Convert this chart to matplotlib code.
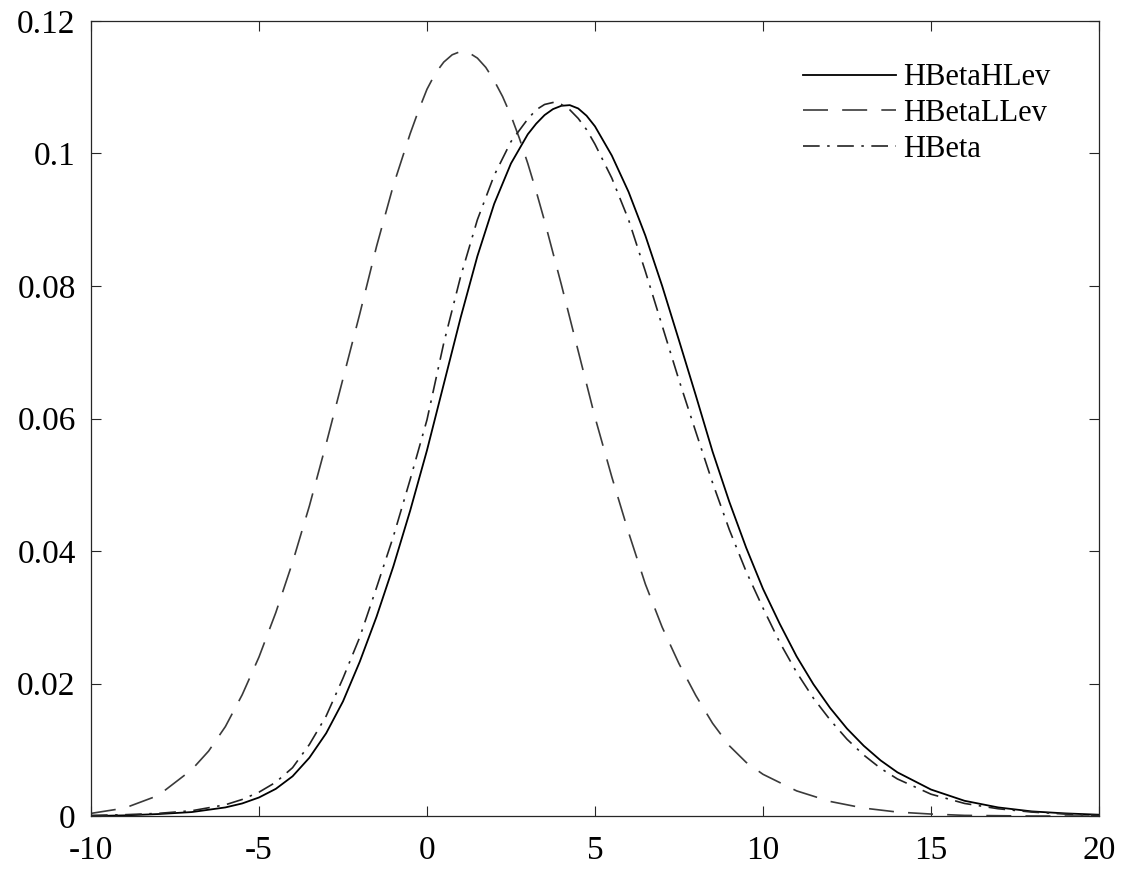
import matplotlib
matplotlib.use('Agg')
import matplotlib.pyplot as plt

plt.rcParams['font.family'] = ['Liberation Serif', 'DejaVu Serif']

# values
x_llev = [-10, -9, -8, -7, -6.5, -6, -5.5, -5, -4.5, -4, -3.5, -3, -2.5, -2, -1.5, -1,
          -0.5, -0.25, 0, 0.25, 0.5, 0.75, 1, 1.25, 1.5, 1.75, 2, 2.25, 2.5, 2.75, 3,
          3.25, 3.5, 4, 4.5, 5, 5.5, 6, 6.5, 7, 7.5, 8, 8.5, 9, 9.5, 10, 11, 12, 13, 14,
          15, 16, 18, 20]
y_llev = [0.0004, 0.0012, 0.0031, 0.0070, 0.0098, 0.0135, 0.0183, 0.0240, 0.0307, 0.0383,
          0.0468, 0.0562, 0.0660, 0.0758, 0.0860, 0.0952, 0.1030, 0.1065, 0.1097, 0.1121,
          0.1138, 0.1149, 0.1154, 0.1152, 0.1144, 0.1130, 0.1110, 0.1086, 0.1057, 0.1023,
          0.0985, 0.0943, 0.0898, 0.0802, 0.0702, 0.0602, 0.0512, 0.0428, 0.0350, 0.0285,
          0.0230, 0.0182, 0.0140, 0.0106, 0.0081, 0.0063, 0.0038, 0.0022, 0.0012, 0.0006,
          0.0003, 0.0001, 0.0000, 0.0000]

x_hlev = [-10, -9, -8, -7, -6, -5.5, -5, -4.5, -4, -3.5, -3, -2.5, -2, -1.5, -1, -0.5,
          0, 0.5, 1, 1.5, 2, 2.5, 3, 3.25, 3.5, 3.75, 4, 4.25, 4.5, 4.75, 5, 5.5, 6, 6.5,
          7, 7.5, 8, 8.5, 9, 9.5, 10, 10.5, 11, 11.5, 12, 12.5, 13, 13.5, 14, 15, 16, 17,
          18, 19, 20]
y_hlev = [0.0000, 0.0001, 0.0003, 0.0006, 0.0013, 0.0019, 0.0028, 0.0041, 0.0060, 0.0088,
          0.0125, 0.0173, 0.0233, 0.0301, 0.0377, 0.0461, 0.0552, 0.0652, 0.0752, 0.0845,
          0.0924, 0.0985, 0.1029, 0.1045, 0.1058, 0.1067, 0.1072, 0.1073, 0.1068, 0.1057,
          0.1041, 0.0997, 0.0942, 0.0876, 0.0800, 0.0718, 0.0635, 0.0550, 0.0474, 0.0405,
          0.0343, 0.0290, 0.0241, 0.0199, 0.0163, 0.0132, 0.0106, 0.0084, 0.0066, 0.0040,
          0.0023, 0.0013, 0.0007, 0.0004, 0.0002]

x_hbeta = [-10, -9, -8, -7, -6, -5.5, -5, -4.5, -4, -3.5, -3, -2.5, -2, -1.5, -1, -0.5,
           0, 0.5, 1, 1.5, 2, 2.5, 3, 3.25, 3.5, 3.75, 4, 4.25, 4.5, 4.75, 5, 5.5, 6, 6.5,
           7, 7.5, 8, 8.5, 9, 9.5, 10, 10.5, 11, 11.5, 12, 12.5, 13, 13.5, 14, 15, 16, 17,
           18, 19, 20]
y_hbeta = [0.0001, 0.0002, 0.0004, 0.0008, 0.0017, 0.0025, 0.0036, 0.0051, 0.0073, 0.0108,
           0.0151, 0.0208, 0.0270, 0.0345, 0.0422, 0.0508, 0.0598, 0.0714, 0.0814, 0.0900,
           0.0967, 0.1018, 0.1052, 0.1066, 0.1074, 0.1077, 0.1074, 0.1066, 0.1053, 0.1036,
           0.1014, 0.0963, 0.0900, 0.0822, 0.0740, 0.0658, 0.0580, 0.0503, 0.0432, 0.0369,
           0.0314, 0.0262, 0.0217, 0.0178, 0.0145, 0.0116, 0.0092, 0.0072, 0.0056, 0.0033,
           0.0019, 0.0011, 0.0006, 0.0003, 0.0001]

labels = ['HBetaHLev', 'HBetaLLev', 'HBeta']
xticks = [-10, -5, 0, 5, 10, 15, 20]
yticks = [0, 0.02, 0.04, 0.06, 0.08, 0.1, 0.12]
ytick_labels = ['0', '0.02', '0.04', '0.06', '0.08', '0.1', '0.12']

fig = plt.figure(figsize=(11.26, 8.71), dpi=100)
ax = fig.add_axes([0.0808, 0.0631, 0.8952, 0.9128])

ax.plot(x_hlev, y_hlev, color='black', lw=1.3, label=labels[0])
ax.plot(x_llev, y_llev, color='#3a3a3a', lw=1.2, dashes=(15, 8.5), label=labels[1])
ax.plot(x_hbeta, y_hbeta, color='#222222', lw=1.2, dashes=(10, 4.5, 1.5, 4.5), label=labels[2])

ax.set_xlim(-10, 20)
ax.set_ylim(0, 0.12)
ax.set_xticks(xticks)
ax.set_xticklabels([str(t) for t in xticks])
ax.set_yticks(yticks)
ax.set_yticklabels(ytick_labels)

ax.tick_params(direction='in', length=7.5, width=0.8, color='#262626',
               top=True, right=True, labelsize=24)
ax.tick_params(axis='x', pad=14)
ax.tick_params(axis='y', pad=11)
for s in ax.spines.values():
    s.set_color('#262626')
    s.set_linewidth(0.9)

# legend without frame, upper right
ax.legend(loc='upper right', bbox_to_anchor=(0.964, 0.962), frameon=False,
          fontsize=22, handlelength=3.05, handletextpad=0.23, labelspacing=0.22,
          borderaxespad=0)

fig.savefig('out.png', dpi=100)
